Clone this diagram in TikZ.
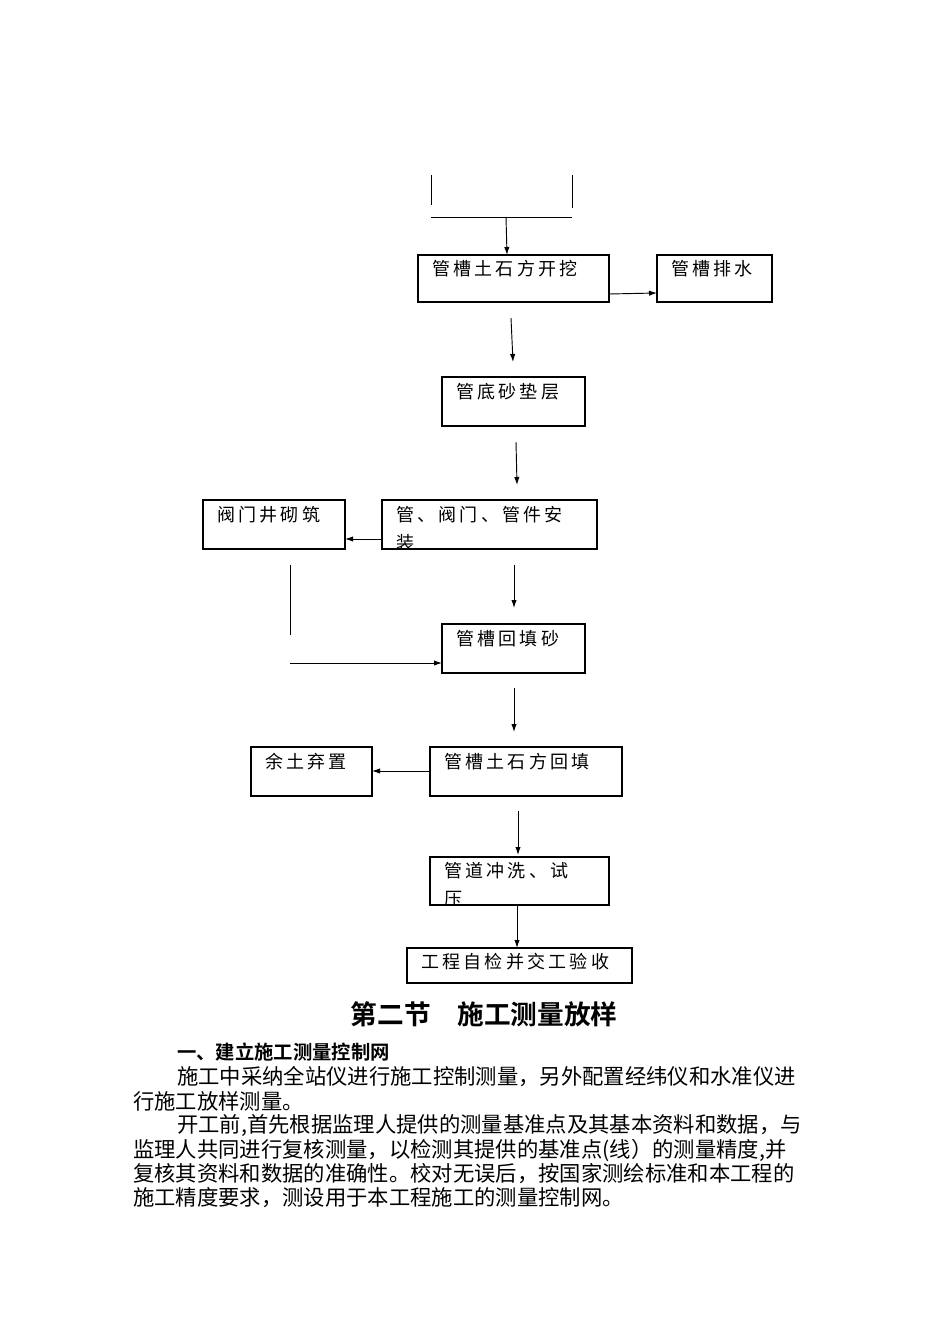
\documentclass[tikz,border=0pt]{standalone}
\usepackage{fontspec}
\setmainfont{Liberation Serif}
\newfontfamily\cjk{Noto Sans CJK SC}
\newfontfamily\cjkb{Noto Sans CJK SC Bold}
\newfontfamily\cjkbox[LetterSpace=18]{Noto Sans CJK SC}
\usetikzlibrary{arrows.meta}
\begin{document}
\begin{tikzpicture}[x=0.75pt,y=-0.75pt,
  bx/.style={draw,line width=0.8pt},
  lbl/.style={anchor=north west,inner sep=0pt,font=\cjkbox\fontsize{13.5}{21}\selectfont},
  arr/.style={-{Latex[length=6pt,width=4pt]},line width=0.7pt},
  ln/.style={line width=0.7pt},
  para/.style={anchor=west,inner sep=0pt,font=\cjk\fontsize{16}{18}\selectfont}]
\useasboundingbox (0,0) rectangle (950,1344);
% top lines
\draw[ln] (431,175) -- (431,205);
\draw[ln] (572,175) -- (572,208);
\draw[ln] (431,217) -- (572,217);
\coordinate (t0) at (506,217);
% boxes
\draw[bx] (418,255) rectangle (609,302); \node[lbl] (b1) at (432,260) {管槽土石方开挖};
\draw[bx] (657,255) rectangle (772,302); \node[lbl] (b2) at (671,260) {管槽排水};
\draw[bx] (442,377) rectangle (585,426); \node[lbl] (b3) at (456,383) {管底砂垫层};
\draw[bx] (382,500) rectangle (597,549);
\begin{scope}\clip (382,500) rectangle (597,549);
\node[lbl,text width=150pt] (b4) at (396,506) {管、阀门、管件安\\装};
\end{scope}
\draw[bx] (203,500) rectangle (345,549); \node[lbl] (b5) at (217,506) {阀门井砌筑};
\draw[bx] (442,624) rectangle (585,673); \node[lbl] (b6) at (456,630) {管槽回填砂};
\draw[bx] (430,747) rectangle (622,796); \node[lbl] (b7) at (444,753) {管槽土石方回填};
\draw[bx] (251,747) rectangle (372,796); \node[lbl] (b8) at (265,753) {余土弃置};
\draw[bx] (430,857) rectangle (609,905);
\begin{scope}\clip (430,857) rectangle (609,905);
\node[lbl,text width=130pt] (b9) at (444,862) {管道冲洗、试\\压};
\end{scope}
\draw[bx] (407,948) rectangle (632,983); \node[lbl] (b10) at (421,953) {工程自检并交工验收};
% arrows
\draw[arr] (t0) -- (507,255);
\draw[arr] (609,294) -- (657,293);
\draw[arr] (511,318) -- (513,362);
\draw[arr] (516,442) -- (517,485);
\draw[arr] (382,539) -- (345,539);
\draw[ln] (290,565) -- (290,635);
\draw[arr] (290,663) -- (442,663);
\draw[arr] (514,565) -- (514,608);
\draw[arr] (514,688) -- (514,732);
\draw[arr] (430,771) -- (372,771);
\draw[arr] (518,811) -- (518,855);
\draw[arr] (517,905) -- (517,948);
% text
\node[inner sep=0pt,font=\cjkb\fontsize{20}{24}\selectfont] (title) at (484,1014) {第二节\quad 施工测量放样};
\node[para,font=\cjkb\fontsize{14.5}{18}\selectfont] (h1) at (177,1052) {一、建立施工测量控制网};
\node[para] (p1) at (177,1077) {施工中采纳全站仪进行施工控制测量，另外配置经纬仪和水准仪进};
\node[para] (p2) at (133,1101) {行施工放样测量。};
\node[para] (p3) at (177,1125) {开工前,首先根据监理人提供的测量基准点及其基本资料和数据，与};
\node[para] (p4) at (133,1150) {监理人共同进行复核测量，以检测其提供的基准点(线）的测量精度,并};
\node[para] (p5) at (133,1174) {复核其资料和数据的准确性。校对无误后，按国家测绘标准和本工程的};
\node[para] (p6) at (133,1198) {施工精度要求，测设用于本工程施工的测量控制网。};
\end{tikzpicture}
\end{document}
